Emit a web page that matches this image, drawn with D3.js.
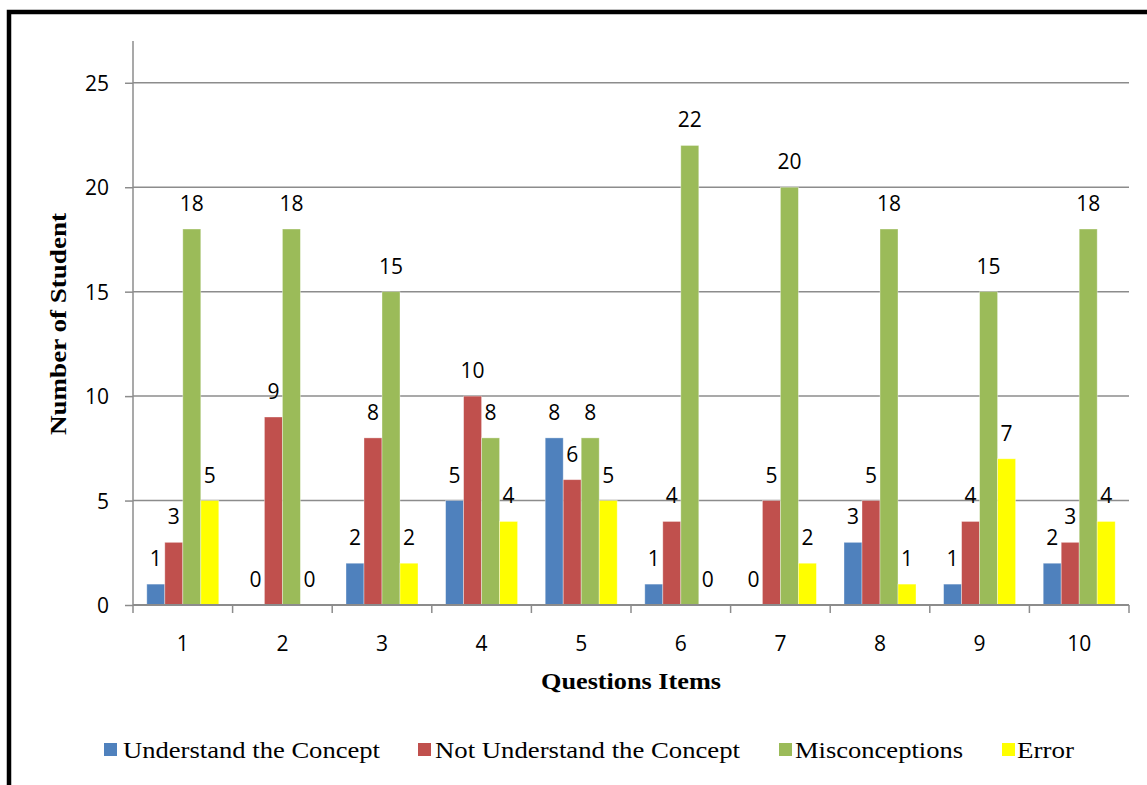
<!DOCTYPE html>
<html>
<head>
<meta charset="utf-8">
<script src="https://cdn.jsdelivr.net/npm/d3@7"></script>
<style>
  html, body { margin: 0; padding: 0; background: #fff; }
  svg { display: block; }
</style>
</head>
<body>
<svg id="chart" width="1147" height="785"></svg>
<script>
// Question items on the x axis
const categories = ["1", "2", "3", "4", "5", "6", "7", "8", "9", "10"];

// Number of students per response type
const understand    = [1, 0, 2, 5, 8, 1, 0, 3, 1, 2];
const notUnderstand = [3, 9, 8, 10, 6, 4, 5, 5, 4, 3];
const misconception = [18, 18, 15, 8, 8, 22, 20, 18, 15, 18];
const errorCount    = [5, 0, 2, 4, 5, 0, 2, 1, 7, 4];

const seriesNames = ["Understand the Concept", "Not Understand the Concept", "Misconceptions", "Error"];
const seriesValues = [understand, notUnderstand, misconception, errorCount];
const seriesColors = ["#4F81BD", "#C0504D", "#9BBB59", "#FFFF00"];

const yTicks = [0, 5, 10, 15, 20, 25];

const svg = d3.select("#chart");

// Frame lines along the top and left edges
svg.append("path")
  .attr("d", "M9,785 V12 H1147")
  .attr("fill", "none")
  .attr("stroke", "#000")
  .attr("stroke-width", 4.5);

const plot = { left: 133, right: 1129, top: 41, bottom: 605 };

const y = d3.scaleLinear().domain([0, 27]).range([plot.bottom, plot.top]);
const x0 = d3.scaleBand().domain(categories).range([plot.left, plot.right]).padding(0);
const x1 = d3.scaleBand().domain(seriesNames).range([0, x0.bandwidth()])
  .paddingInner(0).paddingOuter(0.767);

const gridColor = "#8c8c8c";
const numFont = "'Open Sans', 'DejaVu Sans', sans-serif";
const serifFont = "'Liberation Serif', 'Times New Roman', serif";

// Horizontal gridlines
svg.append("g")
  .selectAll("line")
  .data(yTicks.filter(d => d > 0))
  .join("line")
  .attr("x1", plot.left).attr("x2", plot.right)
  .attr("y1", d => y(d)).attr("y2", d => y(d))
  .attr("stroke", gridColor).attr("stroke-width", 1.5);

// Y axis
const yAxis = svg.append("g")
  .attr("transform", `translate(${plot.left},0)`)
  .call(d3.axisLeft(y).tickValues(yTicks).tickSize(8).tickPadding(16).tickSizeOuter(0));
yAxis.select(".domain").remove();
yAxis.append("line")
  .attr("x1", 0).attr("x2", 0).attr("y1", plot.top).attr("y2", plot.bottom)
  .attr("stroke", gridColor).attr("stroke-width", 1.5);
yAxis.selectAll(".tick line").attr("stroke", gridColor).attr("stroke-width", 1.5);
yAxis.selectAll(".tick text")
  .attr("font-family", numFont).attr("font-size", 21).attr("fill", "#000")
  .attr("dy", "0.36em");

// Bars, grouped by question item
const groups = svg.append("g")
  .selectAll("g")
  .data(categories)
  .join("g")
  .attr("transform", d => `translate(${x0(d)},0)`);

groups.selectAll("rect")
  .data((c, i) => seriesNames.map((s, k) => ({ s, k, v: seriesValues[k][i] })))
  .join("rect")
  .attr("x", d => x1(d.s))
  .attr("width", x1.bandwidth())
  .attr("y", d => y(d.v))
  .attr("height", d => y(0) - y(d.v))
  .attr("fill", d => seriesColors[d.k])
  .attr("stroke", "rgba(255,255,255,0.45)")
  .attr("stroke-width", 0.8);

// Value labels above each bar
groups.selectAll("text")
  .data((c, i) => seriesNames.map((s, k) => ({ s, k, v: seriesValues[k][i] })))
  .join("text")
  .attr("x", d => x1(d.s) + x1.bandwidth() / 2)
  .attr("y", d => y(d.v) - 18)
  .attr("text-anchor", "middle")
  .attr("font-family", numFont)
  .attr("font-size", 21)
  .attr("fill", "#000")
  .text(d => d.v);

// X axis
const xAxisG = svg.append("g").attr("transform", `translate(0,${plot.bottom})`);
xAxisG.append("line")
  .attr("x1", plot.left).attr("x2", plot.right)
  .attr("stroke", gridColor).attr("stroke-width", 2);
const boundaries = categories.map(c => x0(c)).concat([plot.right]);
xAxisG.selectAll("line.tk")
  .data(boundaries)
  .join("line").attr("class", "tk")
  .attr("x1", d => d).attr("x2", d => d)
  .attr("y1", 0).attr("y2", 8)
  .attr("stroke", gridColor).attr("stroke-width", 1.5);
xAxisG.selectAll("text")
  .data(categories)
  .join("text")
  .attr("x", d => x0(d) + x0.bandwidth() / 2)
  .attr("y", 46)
  .attr("text-anchor", "middle")
  .attr("font-family", numFont)
  .attr("font-size", 21)
  .attr("fill", "#000")
  .text(d => d);

// Axis titles
svg.append("text")
  .attr("x", 631).attr("y", 689)
  .attr("text-anchor", "middle")
  .attr("font-family", serifFont)
  .attr("font-weight", "bold")
  .attr("font-size", 24)
  .attr("textLength", 180)
  .attr("lengthAdjust", "spacingAndGlyphs")
  .text("Questions Items");

svg.append("text")
  .attr("transform", "translate(66,324) rotate(-90)")
  .attr("text-anchor", "middle")
  .attr("font-family", serifFont)
  .attr("font-weight", "bold")
  .attr("font-size", 24)
  .attr("textLength", 222)
  .attr("lengthAdjust", "spacingAndGlyphs")
  .text("Number of Student");

// Legend
const legendItems = [
  { x: 104, tx: 123, w: 257 },
  { x: 418, tx: 435, w: 305 },
  { x: 779, tx: 795, w: 168 },
  { x: 1002, tx: 1017, w: 57 }
];
const legend = svg.append("g");
seriesNames.forEach((name, k) => {
  const it = legendItems[k];
  legend.append("rect")
    .attr("x", it.x).attr("y", 743)
    .attr("width", 13).attr("height", 13)
    .attr("fill", seriesColors[k]);
  legend.append("text")
    .attr("x", it.tx).attr("y", 758)
    .attr("font-family", serifFont)
    .attr("font-size", 24)
    .attr("textLength", it.w)
    .attr("lengthAdjust", "spacingAndGlyphs")
    .attr("fill", "#000")
    .text(name);
});
</script>
</body>
</html>
